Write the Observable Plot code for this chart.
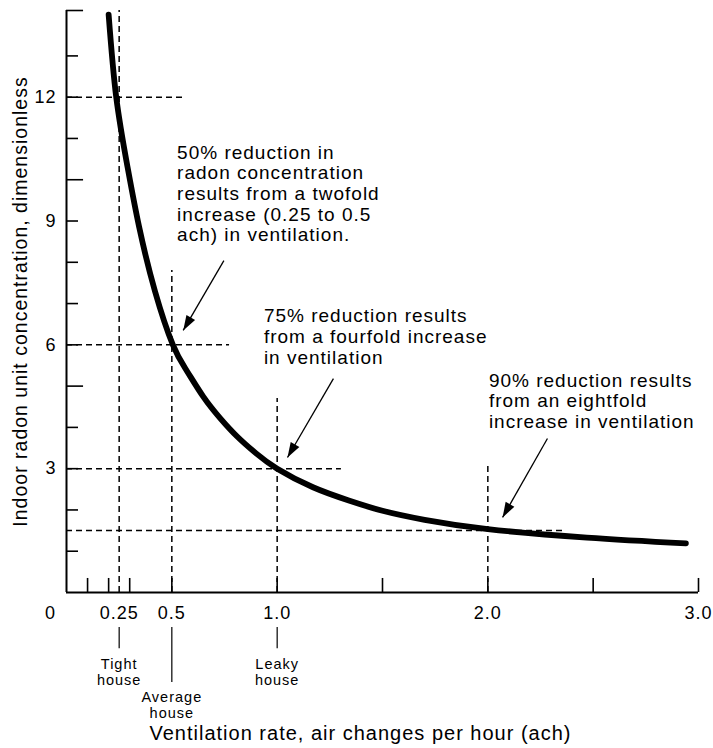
<!DOCTYPE html>
<html>
<head>
<meta charset="utf-8">
<script src="https://cdn.jsdelivr.net/npm/d3@7"></script>
<script src="https://cdn.jsdelivr.net/npm/@observablehq/plot@0.6"></script>
<style>
  html, body { margin: 0; padding: 0; background: #fff; }
  #chart svg text { letter-spacing: 1px; }
</style>
</head>
<body>
<div id="chart"></div>
<script>
// ---- data ----
const curveX = [0.20, 0.236, 0.29, 0.345, 0.42, 0.505, 0.57, 0.65, 0.73, 0.81, 0.90, 1.0, 1.17, 1.34, 1.5, 1.7, 2.0, 2.47, 2.94];
const curveY = [14.0, 12.0, 10.3, 8.85, 7.3, 6.0, 5.38, 4.74, 4.22, 3.78, 3.37, 3.0, 2.55, 2.23, 1.98, 1.76, 1.535, 1.33, 1.19];

const xLabelValues = [0.25, 0.5, 1.0, 2.0, 3.0];
const xLabelText = ["0.25", "0.5", "1.0", "2.0", "3.0"];
const xOriginValue = [0];
const xOriginText = "0";
const xTickValues = [0.1, 0.2, 0.3, 0.5, 1.0, 1.5, 2.0, 2.5, 3.0];

const yLabelValues = [3, 6, 9, 12];
const yShortTickValues = [1, 2, 3, 4, 6, 7, 8, 9, 11, 12, 13];
const yLongTickValues = [5, 10, 14.1];
const yAxisTop = 14.1;
const xAxisEnd = 3.0;

const guideX = [0.25, 0.5, 1.0, 2.0];
const guideXTop = [14.1, 7.8, 4.7, 3.13];
const guideY = [12, 6, 3, 1.5];
const guideYEnd = [0.555, 0.774, 1.305, 2.36];

const noteText = [
  "50% reduction in\nradon concentration\nresults from a twofold\nincrease (0.25 to 0.5\nach) in ventilation.",
  "75% reduction results\nfrom a fourfold increase\nin ventilation",
  "90% reduction results\nfrom an eightfold\nincrease in ventilation"
];
const noteX = [0.525, 0.937, 2.005];
const noteY = [10.87, 6.9, 5.34];

const arrowX1 = [0.747, 1.267, 2.283];
const arrowY1 = [8.04, 5.18, 3.73];
const arrowX2 = [0.554, 1.049, 2.07];
const arrowY2 = [6.35, 3.27, 1.82];

const houseX = [0.25, 0.5, 1.0];
const houseText = ["Tight\nhouse", "Average\nhouse", "Leaky\nhouse"];
const houseLeaderTop = [-0.85, -0.85, -0.85];
const houseLeaderBottom = [-1.36, -2.18, -1.36];
const houseTextY = [-1.575, -2.37, -1.575];

const xTitle = "Ventilation rate, air changes per hour (ach)";
const yTitle = "Indoor radon unit concentration, dimensionless";

// ---- build tables ----
const curve = curveX.map((x, i) => ({x, y: curveY[i]}));
const vGuides = guideX.map((x, i) => ({x, top: guideXTop[i]}));
const hGuides = guideY.map((y, i) => ({y, end: guideYEnd[i]}));
const notes = noteText.map((t, i) => ({t, x: noteX[i], y: noteY[i]}));
const arrows = arrowX1.map((x1, i) => ({x1, y1: arrowY1[i], x2: arrowX2[i], y2: arrowY2[i]}));
const houses = houseX.map((x, i) => ({x, t: houseText[i], y1: houseLeaderTop[i], y2: houseLeaderBottom[i], ty: houseTextY[i]}));

const shortTick = 0.057;  // tick length in x units
const longTick = 0.081;
const xTickLen = 0.34;    // tick length in y units

function solidHead(color) {
  const m = d3.create("svg:marker")
    .attr("viewBox", "-15 -5 15 10")
    .attr("markerWidth", 15)
    .attr("markerHeight", 10)
    .attr("markerUnits", "userSpaceOnUse")
    .attr("orient", "auto")
    .attr("overflow", "visible");
  m.append("path").attr("d", "M-15,-5L0,0L-15,5Z").attr("fill", color).attr("stroke", "none");
  return m.node();
}

const dash = "6,4";

const chart = Plot.plot({
  width: 713,
  height: 748,
  marginLeft: 66,
  marginRight: 15,
  marginTop: 10,
  marginBottom: 156,
  style: {fontFamily: "'Liberation Sans', Arial, Helvetica, sans-serif", background: "#fff", color: "#000"},
  x: {domain: [0, 3]},
  y: {domain: [0, 14.1]},
  marks: [
    // dashed guides
    Plot.ruleX(vGuides, {x: "x", y1: 0, y2: "top", stroke: "#000", strokeWidth: 1.5, strokeDasharray: dash}),
    Plot.ruleY(hGuides, {y: "y", x1: 0, x2: "end", stroke: "#000", strokeWidth: 1.5, strokeDasharray: dash}),
    // axes lines
    Plot.ruleX([0], {y1: 0, y2: yAxisTop, stroke: "#000", strokeWidth: 2}),
    Plot.ruleY([0], {x1: 0, x2: xAxisEnd, stroke: "#000", strokeWidth: 2}),
    // ticks
    Plot.ruleY(yShortTickValues, {x1: 0, x2: shortTick, stroke: "#000", strokeWidth: 1.6}),
    Plot.ruleY(yLongTickValues, {x1: 0, x2: longTick, stroke: "#000", strokeWidth: 1.6}),
    Plot.ruleX(xTickValues, {y1: 0, y2: xTickLen, stroke: "#000", strokeWidth: 1.6}),
    // axis labels
    Plot.axisY({anchor: "left", ticks: yLabelValues, tickSize: 0, tickPadding: 10, fontSize: 18, label: null}),
    Plot.axisX({anchor: "bottom", ticks: xLabelValues, tickFormat: d => xLabelText[xLabelValues.indexOf(d)], tickSize: 0, tickPadding: 14, fontSize: 18, label: null}),
    Plot.axisX({anchor: "bottom", ticks: xOriginValue, tickFormat: () => xOriginText, tickSize: 0, tickPadding: 14, dx: -16, fontSize: 18, label: null}),
    // main curve
    Plot.line(curve, {x: "x", y: "y", curve: "natural", stroke: "#000", strokeWidth: 5.8}),
    // annotations
    Plot.text(notes, {x: "x", y: "y", text: "t", textAnchor: "start", lineAnchor: "top", lineHeight: 1.09, fontSize: 19, fill: "#000"}),
    Plot.link(arrows, {x1: "x1", y1: "y1", x2: "x2", y2: "y2", stroke: "#000", strokeWidth: 1.3, markerEnd: solidHead}),
    // house labels
    Plot.ruleX(houses, {x: "x", y1: "y1", y2: "y2", stroke: "#000", strokeWidth: 1.2}),
    Plot.text(houses, {x: "x", y: "ty", text: "t", lineAnchor: "top", lineHeight: 1.12, fontSize: 14.5, fill: "#000"}),
    // titles
    Plot.text([xTitle], {frameAnchor: "bottom", dx: -22, dy: 141, textAnchor: "middle", lineAnchor: "middle", fontSize: 20, fill: "#000"}),
    Plot.text([yTitle], {frameAnchor: "left", dx: -46, rotate: -90, textAnchor: "middle", lineAnchor: "middle", fontSize: 19.5, fill: "#000"})
  ]
});
document.getElementById("chart").appendChild(chart);
</script>
</body>
</html>
